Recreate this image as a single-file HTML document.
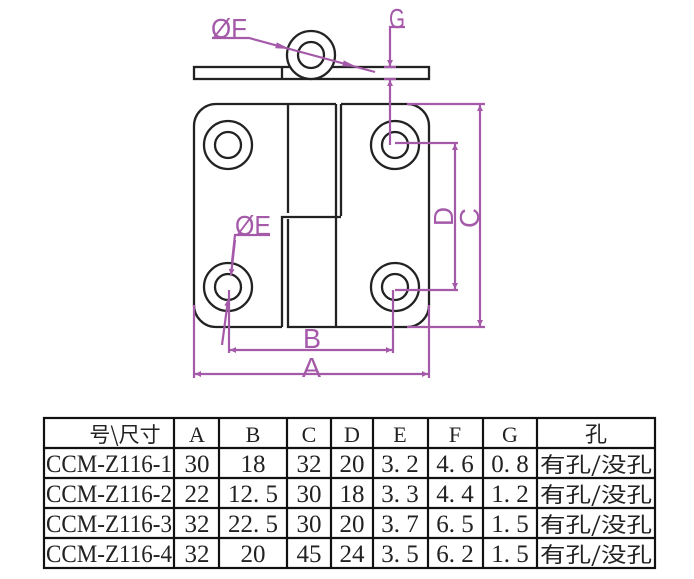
<!DOCTYPE html>
<html><head><style>body{margin:0;background:#fff}</style></head><body>
<svg width="694" height="579" xmlns="http://www.w3.org/2000/svg" style="display:block">
<defs>
<marker id="ar" viewBox="0 0 10 10" refX="10" refY="5" markerWidth="14" markerHeight="6" markerUnits="userSpaceOnUse" orient="auto-start-reverse"><path d="M0,0 L10,5 L0,10 z" fill="#a45aa8"/></marker>
</defs>
<g fill="none" stroke="#222" stroke-width="2.3">
<rect x="194" y="67" width="235" height="12"/>
<line x1="282" y1="67" x2="282" y2="79"/>
<circle cx="311" cy="55" r="24" fill="#fff"/>
<circle cx="311" cy="55" r="13"/>
<path d="M194,126 A22,22 0 0 1 216,104 H336 M341,104 H407 A22,22 0 0 1 429,126 V305 A22,22 0 0 1 407,327 H288 V219 M282,327 H216 A22,22 0 0 1 194,305 V126"/>
<line x1="288" y1="104" x2="288" y2="213"/>
<line x1="336" y1="104" x2="336" y2="327"/>
<line x1="341" y1="104" x2="341" y2="216"/>
<path d="M282,327 V217 H341"/>
<circle cx="228" cy="145" r="24"/><circle cx="228" cy="145" r="13"/>
<circle cx="395" cy="145" r="24"/><circle cx="395" cy="145" r="13"/>
<circle cx="228" cy="287" r="24"/><circle cx="228" cy="287" r="13"/>
<circle cx="395" cy="287" r="24"/><circle cx="395" cy="287" r="13"/>
</g>
<g fill="none" stroke="#a45aa8" stroke-width="2.2">
<path d="M212,38 H249 L375,72"/>
<path d="M405,27 H390 V66" marker-end="url(#ar)"/>
<line x1="390" y1="145" x2="390" y2="80" marker-end="url(#ar)"/>
<line x1="384" y1="67" x2="396" y2="67"/><line x1="384" y1="79" x2="396" y2="79"/>
<line x1="407" y1="104" x2="485" y2="104"/>
<line x1="407" y1="327" x2="485" y2="327"/>
<line x1="480" y1="215" x2="480" y2="105" marker-end="url(#ar)"/>
<line x1="480" y1="215" x2="480" y2="326" marker-end="url(#ar)"/>
<line x1="395" y1="143" x2="458" y2="143"/>
<line x1="395" y1="290" x2="458" y2="290"/>
<line x1="455" y1="215" x2="455" y2="144" marker-end="url(#ar)"/>
<line x1="455" y1="215" x2="455" y2="289" marker-end="url(#ar)"/>
<line x1="229" y1="290" x2="229" y2="353"/>
<line x1="393" y1="290" x2="393" y2="353"/>
<line x1="312" y1="350" x2="230" y2="350" marker-end="url(#ar)"/>
<line x1="312" y1="350" x2="392" y2="350" marker-end="url(#ar)"/>
<line x1="194" y1="305" x2="194" y2="378"/>
<line x1="429" y1="305" x2="429" y2="378"/>
<line x1="312" y1="374" x2="195" y2="374" marker-end="url(#ar)"/>
<line x1="312" y1="374" x2="428" y2="374" marker-end="url(#ar)"/>
<path d="M270,235 H235 L232,262"/>
<line x1="235" y1="240" x2="231" y2="275" marker-end="url(#ar)"/>
<line x1="222" y1="345" x2="228" y2="300" marker-end="url(#ar)"/>
</g>
<g fill="#a45aa8">
<polygon points="290,49 275.2,48.2 276.8,42.4"/>
<polygon points="357,67 342.2,66.2 343.8,60.4"/>
</g>
<g fill="#a45aa8" font-family="Liberation Sans, sans-serif" font-size="28">
<text x="211" y="38" textLength="36" lengthAdjust="spacingAndGlyphs">ØF</text>
<text x="389" y="28" textLength="16" lengthAdjust="spacingAndGlyphs">G</text>
<text x="235" y="235" textLength="36" lengthAdjust="spacingAndGlyphs">ØE</text>
<text x="303" y="348" textLength="18" lengthAdjust="spacingAndGlyphs">B</text>
<text x="302" y="377" textLength="19" lengthAdjust="spacingAndGlyphs">A</text>
<text transform="translate(453,226) rotate(-90)" textLength="19" lengthAdjust="spacingAndGlyphs">D</text>
<text transform="translate(479,228) rotate(-90)" textLength="20" lengthAdjust="spacingAndGlyphs">C</text>
</g>
<g stroke="#111" stroke-width="2.2" fill="none">
<rect x="44" y="418" width="611" height="150"/>
<line x1="44" y1="448" x2="655" y2="448"/>
<line x1="44" y1="478" x2="655" y2="478"/>
<line x1="44" y1="508" x2="655" y2="508"/>
<line x1="44" y1="538" x2="655" y2="538"/>
<line x1="174" y1="418" x2="174" y2="568"/>
<line x1="219" y1="418" x2="219" y2="568"/>
<line x1="287" y1="418" x2="287" y2="568"/>
<line x1="331" y1="418" x2="331" y2="568"/>
<line x1="373" y1="418" x2="373" y2="568"/>
<line x1="428" y1="418" x2="428" y2="568"/>
<line x1="483" y1="418" x2="483" y2="568"/>
<line x1="537" y1="418" x2="537" y2="568"/>
</g>
<g fill="#222" font-family="Liberation Serif, 'Noto Serif CJK SC', serif" font-size="22" text-anchor="middle">
<text x="125" y="442" font-family="'Noto Sans CJK SC', sans-serif" font-size="21">号\尺寸</text>
<text x="197" y="442">A</text><text x="253" y="442">B</text><text x="309" y="442">C</text><text x="352" y="442">D</text><text x="400" y="442">E</text><text x="455" y="442">F</text><text x="510" y="442">G</text>
<text x="596" y="442" font-family="'Noto Sans CJK SC', sans-serif">孔</text>
<g font-size="25">
<text x="109" y="472" textLength="126" lengthAdjust="spacingAndGlyphs">CCM-Z116-1</text><text x="197" y="472">30</text><text x="253" y="472">18</text><text x="309" y="472">32</text><text x="352" y="472">20</text><text x="400" y="472">3. 2</text><text x="455" y="472">4. 6</text><text x="510" y="472">0. 8</text>
<text x="109" y="502" textLength="126" lengthAdjust="spacingAndGlyphs">CCM-Z116-2</text><text x="197" y="502">22</text><text x="253" y="502">12. 5</text><text x="309" y="502">30</text><text x="352" y="502">18</text><text x="400" y="502">3. 3</text><text x="455" y="502">4. 4</text><text x="510" y="502">1. 2</text>
<text x="109" y="532" textLength="126" lengthAdjust="spacingAndGlyphs">CCM-Z116-3</text><text x="197" y="532">32</text><text x="253" y="532">22. 5</text><text x="309" y="532">30</text><text x="352" y="532">20</text><text x="400" y="532">3. 7</text><text x="455" y="532">6. 5</text><text x="510" y="532">1. 5</text>
<text x="109" y="562" textLength="126" lengthAdjust="spacingAndGlyphs">CCM-Z116-4</text><text x="197" y="562">32</text><text x="253" y="562">20</text><text x="309" y="562">45</text><text x="352" y="562">24</text><text x="400" y="562">3. 5</text><text x="455" y="562">6. 2</text><text x="510" y="562">1. 5</text>
</g>
<g font-family="'Noto Sans CJK SC', sans-serif" font-size="21">
<text x="596" y="472" textLength="112" lengthAdjust="spacingAndGlyphs">有孔/没孔</text>
<text x="596" y="502" textLength="112" lengthAdjust="spacingAndGlyphs">有孔/没孔</text>
<text x="596" y="532" textLength="112" lengthAdjust="spacingAndGlyphs">有孔/没孔</text>
<text x="596" y="562" textLength="112" lengthAdjust="spacingAndGlyphs">有孔/没孔</text>
</g>
</g>
</svg>
</body></html>
